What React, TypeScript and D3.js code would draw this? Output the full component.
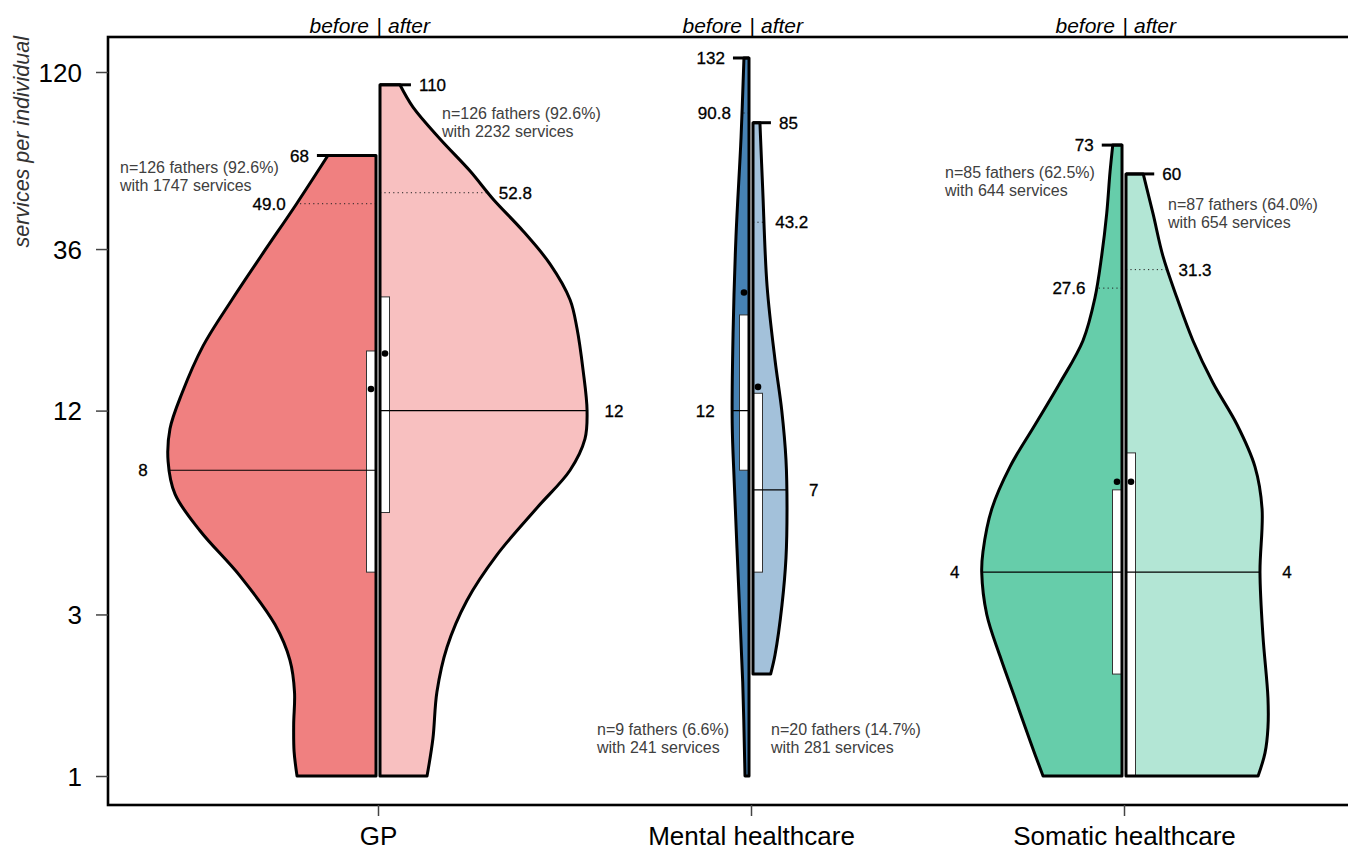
import React, { useEffect, useRef } from 'react';
import * as d3 from 'd3';

// categories and summary stats (before | after)
const groups = ['GP', 'Mental healthcare', 'Somatic healthcare'];
const maxBefore = [68, 132, 73];
const maxAfter = [110, 85, 60];
const minBefore = [1, 1, 1];
const minAfter = [1, 2, 1];
const p95Before = [49.0, 90.8, 27.6];
const p95After = [52.8, 43.2, 31.3];
const medianBefore = [8, 12, 4];
const medianAfter = [12, 7, 4];
const q1Before = [4, 8, 2];
const q3Before = [18, 23, 7];
const q1After = [6, 4, 1];
const q3After = [26, 13.5, 9];
const meanBefore = [13.9, 26.8, 7.4];
const meanAfter = [17.7, 14.1, 7.4];
const nBefore = [126, 9, 85];
const pctBefore = ['92.6', '6.6', '62.5'];
const servicesBefore = [1747, 241, 644];
const nAfter = [126, 20, 87];
const pctAfter = ['92.6', '14.7', '64.0'];
const servicesAfter = [2232, 281, 654];

const yTicks = [1, 3, 12, 36, 120];

// relative density (half width) at service values
const densBefore: [number, number][][] = [
  [[68, .229], [49, .378], [35, .538], [25.5, .686], [18.6, .824], [13.5, .924], [10.6, .981], [8.5, .99],
   [6.8, .957], [5.3, .838], [3.9, .648], [2.8, .481], [2.2, .41], [1.77, .388], [1.42, .392], [1.18, .39], [1, .376]],
  [[132, .024], [76.6, .038], [39.1, .062], [20.1, .076], [11, .08], [7.3, .07], [3.7, .05], [1.9, .03], [1, .019]],
  [[73, .044], [60.8, .057], [45.7, .073], [34.3, .097], [25.8, .129], [19.3, .186], [14.5, .295], [10.9, .414],
   [8.2, .533], [6.15, .62], [4.6, .662], [4, .668], [3, .644], [2.26, .581], [1.7, .51], [1.27, .438], [1, .376]],
];
const densAfter: [number, number][][] = [
  [[110, .095], [94.5, .157], [76.1, .286], [61.2, .429], [50.6, .538], [40.7, .681], [32.5, .81], [25.5, .905],
   [21, .938], [15.8, .967], [12, .986], [9.9, .976], [8, .905], [6.2, .748], [4.5, .557], [3.3, .414],
   [2.4, .319], [1.77, .271], [1.29, .252], [1, .224]],
  [[85, .033], [54.5, .046], [28, .067], [16.9, .105], [12, .137], [8.6, .157], [6.2, .162], [4.4, .157],
   [3.2, .138], [2.28, .105], [2, .084]],
  [[60, .082], [45.7, .129], [34.3, .176], [25.8, .243], [19.3, .319], [14.5, .414], [10.9, .529], [8.2, .614],
   [6.15, .648], [4, .638], [2.6, .652], [1.7, .676], [1.39, .676], [1.17, .662], [1, .629]],
];

// annotation placement (px offset from group centre, baselines)
const noteDx = [[-258, 64], [-154, 20], [-179, 44]];
const noteY = [[173, 119], [735, 735], [178, 210]];

const colBefore = ['#F08080', '#4682B4', '#66CDAA'];
const colAfter = ['#F8C0C0', '#A3C1DA', '#B3E6D5'];

const FONT = '"Liberation Sans", Arial, sans-serif';

const App = () => {
  const ref = useRef<SVGSVGElement | null>(null);

  useEffect(() => {
    const svg = d3.select(ref.current);
    svg.selectAll('*').remove();

    const box = { left: 108, right: 1394, top: 37, bottom: 805 };
    const y = d3.scaleLog().domain([1, 120]).range([776, 72]);
    const x = d3.scalePoint<string>().domain(groups).range([378, 1124]);
    const w = d3.scaleLinear().domain([0, 1]).range([0, 210]);

    const defs = svg.append('defs');

    // axes box
    svg.append('rect')
      .attr('x', box.left).attr('y', box.top)
      .attr('width', box.right - box.left).attr('height', box.bottom - box.top)
      .attr('fill', 'none').attr('stroke', '#000').attr('stroke-width', 2.6);

    // y axis
    const yAxis = svg.append('g').attr('transform', `translate(${box.left},0)`)
      .call(d3.axisLeft(y).tickValues(yTicks).tickFormat(d3.format('d')).tickSize(12).tickPadding(14));
    yAxis.select('.domain').remove();
    yAxis.selectAll('line').attr('stroke', '#444').attr('stroke-width', 1.5);
    yAxis.selectAll('text').attr('font-family', FONT).attr('font-size', 26).attr('fill', '#000').attr('dy', '0.36em');

    // x axis
    const xAxis = svg.append('g').attr('transform', `translate(0,${box.bottom})`)
      .call(d3.axisBottom(x).tickSize(11).tickPadding(11));
    xAxis.select('.domain').remove();
    xAxis.selectAll('line').attr('stroke', '#444').attr('stroke-width', 1.5);
    xAxis.selectAll('text').attr('font-family', FONT).attr('font-size', 26).attr('fill', '#000');

    svg.append('text')
      .attr('transform', `translate(29,${box.top - 1}) rotate(-90)`)
      .attr('text-anchor', 'end')
      .attr('font-family', FONT).attr('font-size', 21.5).attr('font-style', 'italic')
      .attr('fill', '#333')
      .text('services per individual');

    const numLabel = (tx: number, ty: number, anchor: string, txt: string) =>
      svg.append('text').attr('x', tx).attr('y', ty).attr('dy', '0.36em')
        .attr('text-anchor', anchor).attr('font-family', FONT).attr('font-size', 17)
        .attr('fill', '#000').attr('stroke', '#000').attr('stroke-width', 0.3).text(txt);

    groups.forEach((g, i) => {
      const c = x(g) as number;

      // header
      const hy = 32.5;
      const head = svg.append('g').attr('font-family', FONT).attr('font-size', 21)
        .attr('font-style', 'italic').attr('fill', '#000');
      head.append('text').attr('x', c - 9).attr('y', hy).attr('text-anchor', 'end').text('before');
      head.append('text').attr('x', c + 1).attr('y', hy).attr('text-anchor', 'middle').text('|');
      head.append('text').attr('x', c + 10).attr('y', hy).attr('text-anchor', 'start').text('after');

      const halves = [
        { side: -1, inner: c - 2, dens: densBefore[i], fill: colBefore[i], max: maxBefore[i], min: minBefore[i],
          p95: p95Before[i], med: medianBefore[i], q1: q1Before[i], q3: q3Before[i], mean: meanBefore[i],
          n: nBefore[i], pct: pctBefore[i], serv: servicesBefore[i], dx: noteDx[i][0], ny: noteY[i][0] },
        { side: 1, inner: c + 2, dens: densAfter[i], fill: colAfter[i], max: maxAfter[i], min: minAfter[i],
          p95: p95After[i], med: medianAfter[i], q1: q1After[i], q3: q3After[i], mean: meanAfter[i],
          n: nAfter[i], pct: pctAfter[i], serv: servicesAfter[i], dx: noteDx[i][1], ny: noteY[i][1] },
      ];

      halves.forEach((h, k) => {
        const line = d3.line<[number, number]>()
          .x(d => h.inner + h.side * w(d[1]))
          .y(d => y(d[0]))
          .curve(d3.curveCatmullRom.alpha(0.5));
        const curve = line(h.dens) as string;
        const d = `M${h.inner},${y(h.max)}L${curve.slice(1)}L${h.inner},${y(h.min)}Z`;
        const widthAt = d3.scaleLinear()
          .domain(h.dens.map(p => Math.log(p[0])))
          .range(h.dens.map(p => w(p[1])));
        const edge = (v: number) => h.inner + h.side * widthAt(Math.log(v));

        const clipId = `clip-${i}-${k}`;
        defs.append('clipPath').attr('id', clipId).append('path').attr('d', d);

        svg.append('path').attr('d', d).attr('fill', h.fill);

        const inside = svg.append('g').attr('clip-path', `url(#${clipId})`);
        // box
        const bx = h.side < 0 ? h.inner - 9.5 : h.inner + 0.5;
        inside.append('rect')
          .attr('x', bx).attr('y', y(h.q3))
          .attr('width', 9).attr('height', y(h.q1) - y(h.q3))
          .attr('fill', '#fff').attr('stroke', '#333').attr('stroke-width', 1);
        // median
        inside.append('line')
          .attr('x1', h.inner).attr('x2', h.inner + h.side * 260)
          .attr('y1', y(h.med)).attr('y2', y(h.med))
          .attr('stroke', '#000').attr('stroke-width', 1.1);
        // upper percentile
        inside.append('line')
          .attr('x1', h.inner).attr('x2', h.inner + h.side * 260)
          .attr('y1', y(h.p95)).attr('y2', y(h.p95))
          .attr('stroke', '#222').attr('stroke-width', 1).attr('stroke-dasharray', '1.2,3.2');
        // mean
        svg.append('circle')
          .attr('cx', bx + 4.5).attr('cy', y(h.mean)).attr('r', 3.3).attr('fill', '#000');

        // outline
        svg.append('path').attr('d', d).attr('fill', 'none')
          .attr('stroke', '#000').attr('stroke-width', 3).attr('stroke-linejoin', 'round');
        const topEdge = edge(h.max);
        svg.append('line')
          .attr('x1', h.inner).attr('x2', topEdge + h.side * 11)
          .attr('y1', y(h.max)).attr('y2', y(h.max))
          .attr('stroke', '#000').attr('stroke-width', 3);

        const anchor = h.side < 0 ? 'end' : 'start';
        numLabel(topEdge + h.side * 19, y(h.max), anchor, String(h.max));
        numLabel(edge(h.p95) + h.side * 11, y(h.p95), anchor, h.p95.toFixed(1));
        numLabel(edge(h.med) + h.side * 27, y(h.med), 'middle', String(h.med));

        const note = svg.append('text').attr('font-family', FONT).attr('font-size', 16).attr('fill', '#404040');
        note.append('tspan').attr('x', c + h.dx).attr('y', h.ny).text(`n=${h.n} fathers (${h.pct}%)`);
        note.append('tspan').attr('x', c + h.dx).attr('y', h.ny + 18.4).text(`with ${h.serv} services`);
      });
    });
  }, []);

  return (
    <svg ref={ref} width={1348} height={851}
      style={{ position: 'absolute', left: 0, top: 0, background: '#fff' }} />
  );
};

export default App;
